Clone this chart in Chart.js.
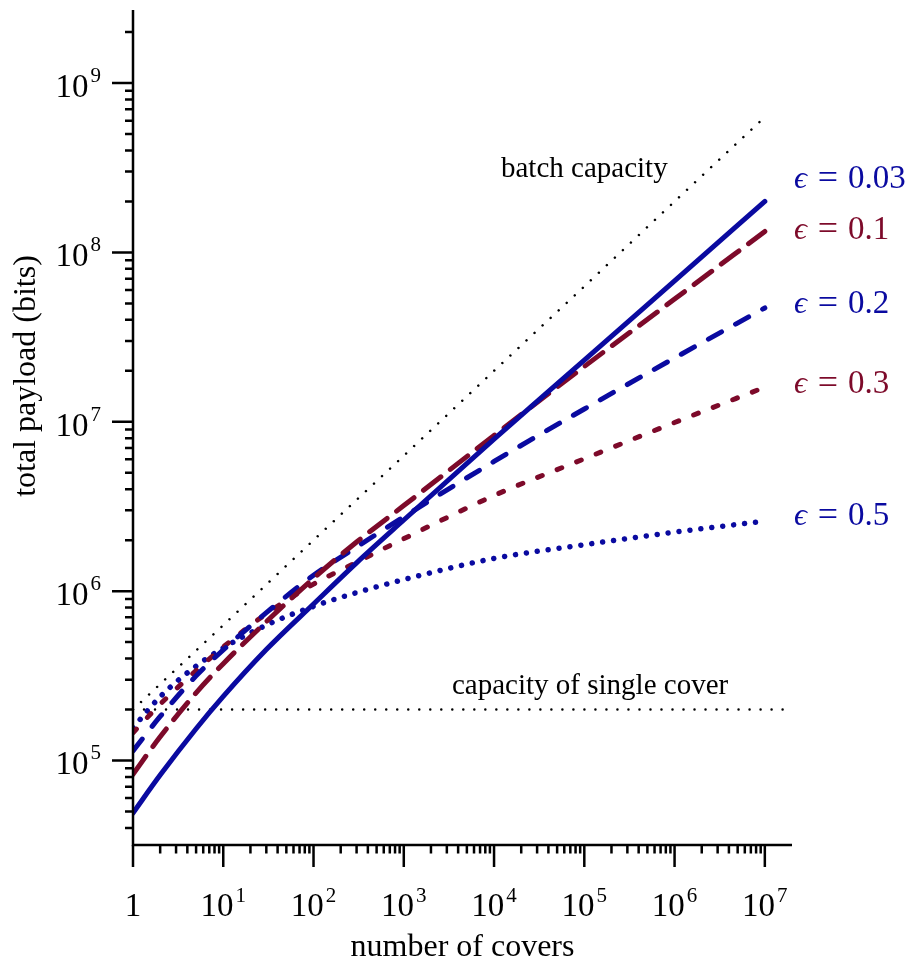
<!DOCTYPE html>
<html lang="en">
    <head>
        <meta charset="UTF-8">
        <title>Total payload vs number of covers</title>
        <script src="https://cdn.jsdelivr.net/npm/chart.js@4.4.1/dist/chart.umd.min.js"></script>
        <style>
            html, body {
                margin: 0;
                background: #fff;
            }
        </style>
    </head>
    <body>
        <canvas id="payload-chart" width="909" height="968"></canvas>
    </body>
    <script>
        // values
        const covers = [1, 2, 5, 10, 30, 100, 300, 1e3, 1e4, 1e5, 1e6, 1e7];
        const payloadEps003 = [4.9e4, 8.2e4, 1.54e5, 2.39e5, 4.52e5, 8.4e5, 1.47e6, 2.63e6, 7.9e6, 2.31e7, 6.8e7, 2.0e8];
        const payloadEps01 = [8.3e4, 1.38e5, 2.51e5, 3.73e5, 6.6e5, 1.19e6, 1.95e6, 3.2e6, 8.3e6, 2.12e7, 5.3e7, 1.33e8];
        const payloadEps02 = [1.14e5, 1.82e5, 3.16e5, 4.5e5, 7.46e5, 1.24e6, 1.82e6, 2.75e6, 5.83e6, 1.19e7, 2.38e7, 4.7e7];
        const payloadEps03 = [1.46e5, 2.15e5, 3.39e5, 4.68e5, 7.35e5, 1.1e6, 1.48e6, 2.04e6, 3.67e6, 6.05e6, 9.9e6, 1.6e7];
        const payloadEps05 = [1.56e5, 2.38e5, 3.61e5, 4.62e5, 6.3e5, 8.13e5, 9.8e5, 1.17e6, 1.56e6, 1.88e6, 2.23e6, 2.59e6];

        const batchCovers = [1, 10, 100, 1e3, 1e4, 1e5, 1e6, 1e7];
        const batchCapacity = [2e5, 6.3e5, 2e6, 6.3e6, 2e7, 6.3e7, 2e8, 6.3e8];
        const singleCovers = [1, 2e7];
        const singleCapacity = [2e5, 2e5];

        const xTickExps = [0, 1, 2, 3, 4, 5, 6, 7];
        const yTickExps = [5, 6, 7, 8, 9];
        const epsValues = ['0.03', '0.1', '0.2', '0.3', '0.5'];

        const BLUE = '#0a0aa0';
        const RED = '#7d0a2a';
        const SERIF = "'Liberation Serif', 'Times New Roman', serif";

        const toPoints = (xs, ys) => xs.map((x, i) => ({x: x, y: ys[i]}));

        const curve = (label, ys, color, dash) => ({
            label: label,
            data: toPoints(covers, ys),
            borderColor: color,
            borderWidth: 5,
            borderDash: dash,
            borderCapStyle: 'round',
            cubicInterpolationMode: 'monotone',
            pointRadius: 0
        });

        const dotted = (label, xs, ys) => ({
            label: label,
            data: toPoints(xs, ys),
            borderColor: '#000',
            borderWidth: 2.5,
            borderDash: [0.01, 11],
            borderCapStyle: 'round',
            tension: 0,
            pointRadius: 0
        });

        const decorations = {
            id: 'decorations',
            afterDraw(chart) {
                const {ctx, chartArea: a} = chart;
                const xs = chart.scales.x;
                const ys = chart.scales.y;
                ctx.save();
                ctx.strokeStyle = '#000';
                ctx.fillStyle = '#000';
                ctx.lineWidth = 2.5;

                // axis lines
                ctx.beginPath();
                ctx.moveTo(a.left, a.top);
                ctx.lineTo(a.left, a.bottom);
                ctx.lineTo(a.right, a.bottom);
                ctx.stroke();

                // tick marks, 1..9 per decade
                ctx.beginPath();
                for (let d = 0; d <= 7; d++) {
                    for (let k = 1; k <= 9; k++) {
                        const v = k * Math.pow(10, d);
                        if (v > 1e7) continue;
                        const p = xs.getPixelForValue(v);
                        const len = k === 1 ? 22 : 8.5;
                        ctx.moveTo(p, a.bottom);
                        ctx.lineTo(p, a.bottom + len);
                    }
                }
                for (let d = 4; d <= 9; d++) {
                    for (let k = 1; k <= 9; k++) {
                        const v = k * Math.pow(10, d);
                        if (v < ys.min || v > ys.max) continue;
                        const p = ys.getPixelForValue(v);
                        const len = k === 1 ? 21 : 8;
                        ctx.moveTo(a.left - len, p);
                        ctx.lineTo(a.left, p);
                    }
                }
                ctx.stroke();

                const big = '33px ' + SERIF;
                const small = '21px ' + SERIF;

                // x tick labels
                ctx.textBaseline = 'alphabetic';
                xTickExps.forEach(e => {
                    const p = xs.getPixelForValue(Math.pow(10, e));
                    if (e === 0) {
                        ctx.font = big;
                        ctx.textAlign = 'center';
                        ctx.fillText('1', p, 916);
                        return;
                    }
                    ctx.font = big;
                    const w1 = ctx.measureText('10').width;
                    ctx.font = small;
                    const w2 = ctx.measureText(String(e)).width;
                    const x0 = p - (w1 + 2 + w2) / 2;
                    ctx.textAlign = 'left';
                    ctx.font = big;
                    ctx.fillText('10', x0, 916);
                    ctx.font = small;
                    ctx.fillText(String(e), x0 + w1 + 2, 902);
                });

                // y tick labels
                yTickExps.forEach(e => {
                    const p = ys.getPixelForValue(Math.pow(10, e));
                    ctx.textAlign = 'right';
                    ctx.font = small;
                    const w2 = ctx.measureText(String(e)).width;
                    ctx.fillText(String(e), 101, p - 1);
                    ctx.font = big;
                    ctx.fillText('10', 101 - w2 - 2, p + 14);
                });

                // axis titles
                ctx.font = '32px ' + SERIF;
                ctx.textAlign = 'center';
                ctx.textBaseline = 'middle';
                ctx.fillText('number of covers', (a.left + a.right) / 2, 948);
                ctx.save();
                ctx.translate(27, 376);
                ctx.rotate(-Math.PI / 2);
                ctx.fillText('total payload (bits)', 0, 0);
                ctx.restore();

                // annotations
                ctx.textBaseline = 'alphabetic';
                ctx.textAlign = 'left';
                ctx.font = '29px ' + SERIF;
                ctx.fillText('batch capacity', 501, 177);
                ctx.fillText('capacity of single cover', 452, 694);

                // epsilon labels: symbol, equals sign, value
                const labelY = [188, 239, 313, 393, 525];
                const labelC = [BLUE, RED, BLUE, RED, BLUE];
                epsValues.forEach((t, i) => {
                    ctx.fillStyle = labelC[i];
                    ctx.textAlign = 'left';
                    ctx.font = "italic 32px 'Liberation Serif', 'DejaVu Serif', serif";
                    ctx.fillText('ϵ', 794, labelY[i]);
                    ctx.textAlign = 'center';
                    ctx.font = '36px ' + SERIF;
                    ctx.fillText('=', 828, labelY[i] + 1);
                    ctx.textAlign = 'left';
                    ctx.font = '33px ' + SERIF;
                    ctx.fillText(t, 848, labelY[i]);
                });
                ctx.restore();
            }
        };

        new Chart(
            document.getElementById('payload-chart'),
            {
                type: 'line',
                data: {
                    datasets: [
                        curve('ϵ = 0.03', payloadEps003, BLUE, []),
                        curve('ϵ = 0.1', payloadEps01, RED, [22, 12]),
                        curve('ϵ = 0.2', payloadEps02, BLUE, [15, 16]),
                        curve('ϵ = 0.3', payloadEps03, RED, [5, 16]),
                        Object.assign(curve('ϵ = 0.5', payloadEps05, BLUE, [0.01, 11]), {borderWidth: 5.5}),
                        dotted('batch capacity', batchCovers, batchCapacity),
                        dotted('capacity of single cover', singleCovers, singleCapacity)
                    ]
                },
                options: {
                    responsive: false,
                    animation: false,
                    layout: {
                        padding: {top: 10, right: 117, left: 0, bottom: 0}
                    },
                    scales: {
                        x: {
                            type: 'logarithmic',
                            min: 1,
                            max: 2e7,
                            grid: {display: false},
                            border: {display: false},
                            ticks: {display: false},
                            afterFit: s => { s.height = 123; }
                        },
                        y: {
                            type: 'logarithmic',
                            min: 3.17e4,
                            max: 2.7e9,
                            grid: {display: false},
                            border: {display: false},
                            ticks: {display: false},
                            afterFit: s => { s.width = 133; }
                        }
                    },
                    plugins: {
                        legend: {display: false},
                        tooltip: {enabled: false}
                    }
                },
                plugins: [decorations]
            }
        );
    </script>
</html>
